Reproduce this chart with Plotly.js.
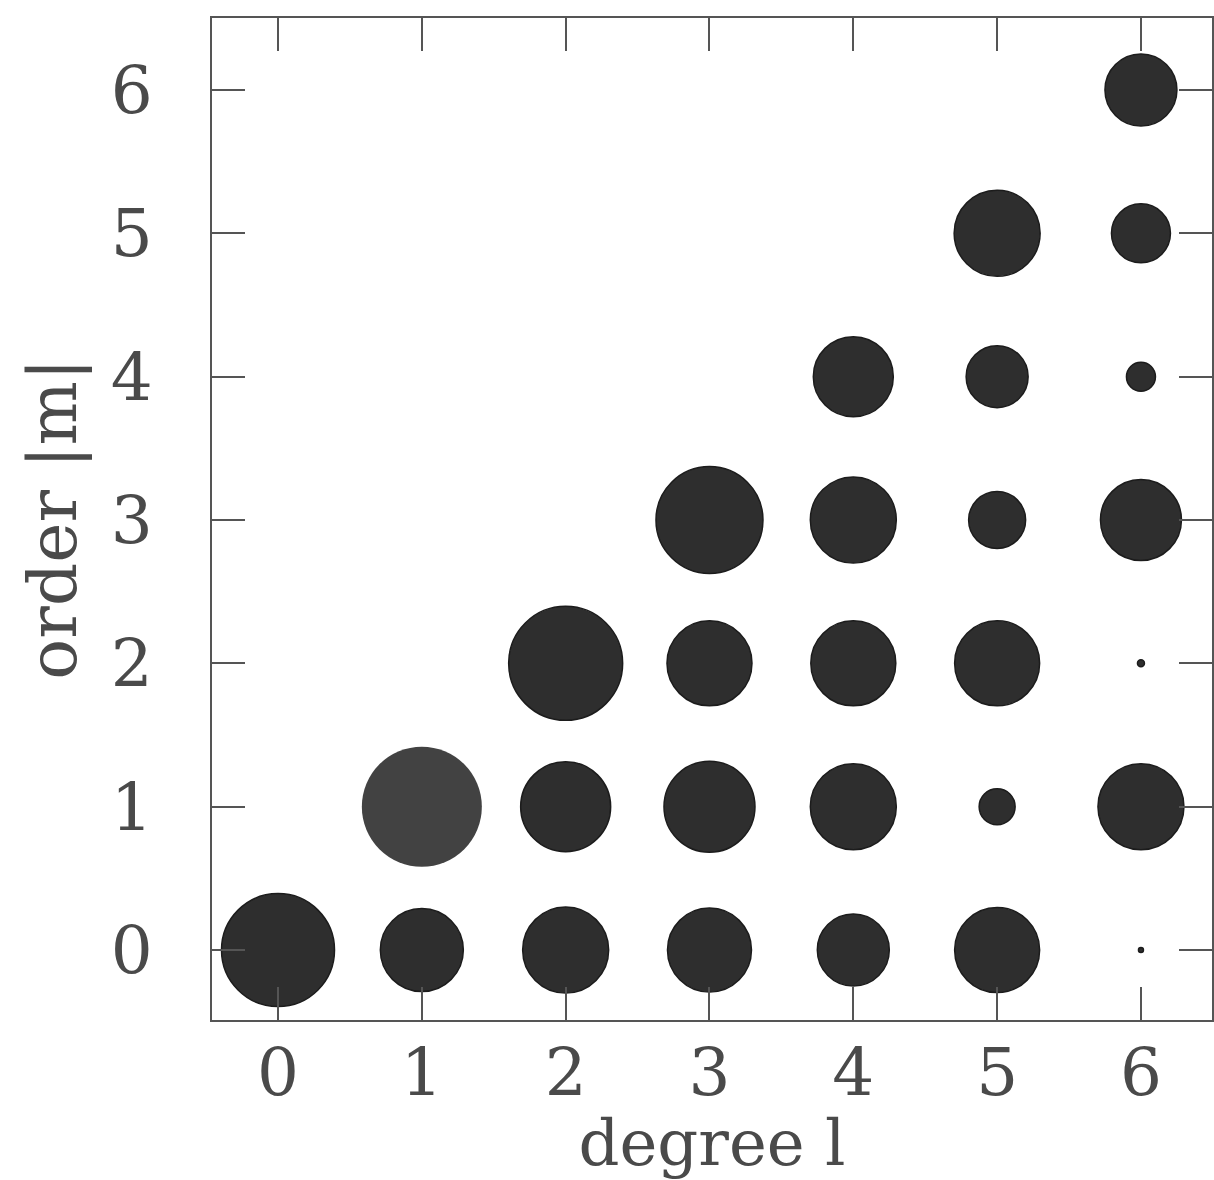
<!DOCTYPE html>
<html>
<head>
<meta charset="utf-8">
<script src="https://cdn.plot.ly/plotly-3.0.1.min.js"></script>
<style>
  html, body { margin: 0; padding: 0; background: #fff; }
  #chart { width: 1214px; height: 1180px; }
</style>
</head>
<body>
<div id="chart"></div>
<script>
// degree l, order |m| and the apparent dot diameter (px)
const degreeL = [0, 1, 2, 3, 4, 5, 6,
                 1, 2, 3, 4, 5, 6,
                 2, 3, 4, 5, 6,
                 3, 4, 5, 6,
                 4, 5, 6,
                 5, 6,
                 6];
const orderM  = [0, 0, 0, 0, 0, 0, 0,
                 1, 1, 1, 1, 1, 1,
                 2, 2, 2, 2, 2,
                 3, 3, 3, 3,
                 4, 4, 4,
                 5, 5,
                 6];
const dotSize = [113, 83, 86, 84, 72, 85, 5,
                 120, 90, 91, 86, 36, 86,
                 114, 85, 85, 85, 7,
                 107, 86, 57, 81,
                 80, 62, 29,
                 86, 59,
                 72];
const dotColor = degreeL.map((l, i) => (l === 1 && orderM[i] === 1) ? '#424242' : '#2e2e2e');
const lineWidth = degreeL.map((l, i) => (l === 1 && orderM[i] === 1) ? 0 : 1.5);

const tickVals = [0, 1, 2, 3, 4, 5, 6];
const tickText = ['0', '1', '2', '3', '4', '5', '6'];

const fontFamily = '"DejaVu Serif", "Liberation Serif", serif';
const textColor = '#4a4a4a';

const trace = {
  type: 'scatter',
  mode: 'markers',
  x: degreeL,
  y: orderM,
  marker: {
    size: dotSize,
    sizemode: 'diameter',
    color: dotColor,
    opacity: 1,
    line: { color: '#1c1c1c', width: lineWidth }
  },
  hoverinfo: 'x+y',
  showlegend: false
};

const axisCommon = {
  tickmode: 'array',
  tickvals: tickVals,
  ticktext: tickText,
  ticks: 'inside',
  ticklen: 33,
  tickwidth: 2,
  tickcolor: '#555',
  showline: true,
  linecolor: '#555',
  linewidth: 2,
  mirror: 'ticks',
  showgrid: false,
  zeroline: false,
  tickfont: { family: fontFamily, size: 66, color: textColor }
};

const layout = {
  width: 1214,
  height: 1180,
  margin: { l: 212, r: 2, t: 18, b: 160 },
  paper_bgcolor: '#ffffff',
  plot_bgcolor: '#ffffff',
  xaxis: Object.assign({}, axisCommon, {
    range: [-0.459, 6.494],
    ticklabelstandoff: -6,
    title: { text: 'degree l', font: { family: fontFamily, size: 64, color: textColor }, standoff: 14 }
  }),
  yaxis: Object.assign({}, axisCommon, {
    range: [-0.488, 6.502],
    ticklabelstandoff: 44,
    title: { text: 'order |m|', font: { family: fontFamily, size: 68, color: textColor }, standoff: 12 }
  })
};

Plotly.newPlot('chart', [trace], layout, { displayModeBar: false, staticPlot: true });
</script>
</body>
</html>
